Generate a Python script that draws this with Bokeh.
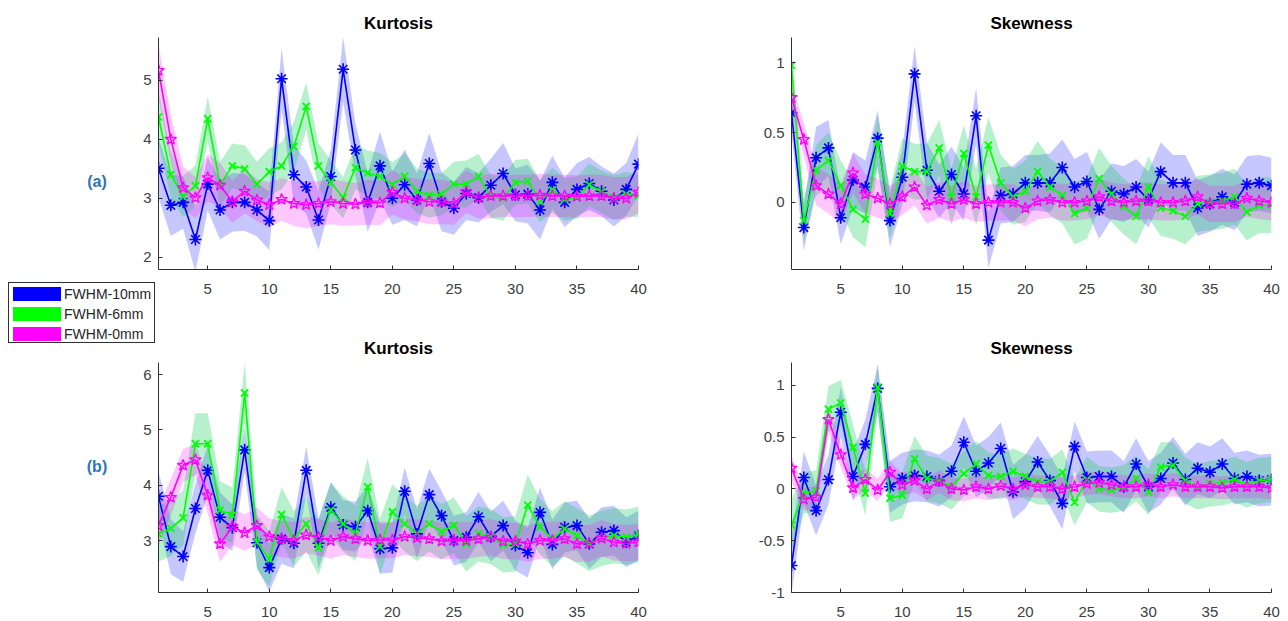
from bokeh.plotting import figure
from bokeh.layouts import row, column
from bokeh.models import Range1d, FixedTicker, Div
from bokeh.embed import file_html
from bokeh.resources import INLINE

# ---------------- data ----------------
x = list(range(1, 41))
series_names = ["FWHM-10mm", "FWHM-6mm", "FWHM-0mm"]
panel_tags = ["(a)", "(b)"]
xticks = [5, 10, 15, 20, 25, 30, 35, 40]

# (a) Kurtosis
a_kurt_10 = [3.51, 2.88, 2.93, 2.30, 3.24, 2.80, 2.93, 2.93, 2.80, 2.62,
             5.03, 3.40, 3.19, 2.63, 3.37, 5.19, 3.82, 2.93, 3.55, 3.00,
             3.23, 2.97, 3.59, 2.94, 2.83, 3.08, 3.01, 3.22, 3.42, 3.06,
             3.07, 2.80, 3.27, 2.93, 3.15, 3.25, 3.12, 2.97, 3.15, 3.58]
a_kurt_6 = [4.38, 3.40, 3.03, 3.21, 4.35, 3.23, 3.55, 3.50, 3.24, 3.45,
            3.55, 3.88, 4.56, 3.55, 3.27, 3.01, 3.52, 3.43, 3.37, 3.23,
            3.37, 3.12, 3.05, 3.07, 3.24, 3.24, 3.37, 3.03, 3.00, 3.27,
            3.29, 2.95, 3.14, 2.98, 3.01, 3.23, 3.11, 3.01, 3.07, 3.04]
a_kurt_0 = [5.17, 4.00, 3.18, 3.01, 3.35, 3.22, 2.94, 3.12, 2.97, 2.89,
            2.98, 2.91, 2.89, 2.91, 2.94, 2.91, 2.90, 2.93, 2.92, 3.10,
            3.00, 2.97, 2.94, 2.94, 2.91, 3.11, 3.01, 3.04, 3.04, 3.04,
            3.04, 3.05, 3.04, 3.04, 3.03, 3.04, 3.04, 3.00, 3.00, 3.10]
a_kurt_sd_10 = [0.50, 0.52, 0.45, 0.55, 0.45, 0.50, 0.50, 0.48, 0.45, 0.50,
                0.52, 0.50, 0.45, 0.50, 0.45, 0.55, 0.45, 0.50, 0.58, 0.45,
                0.60, 0.45, 0.52, 0.50, 0.45, 0.45, 0.42, 0.45, 0.52, 0.45,
                0.50, 0.50, 0.45, 0.42, 0.45, 0.45, 0.42, 0.45, 0.45, 0.52]
a_kurt_sd_6 = [0.45, 0.40, 0.35, 0.35, 0.38, 0.38, 0.38, 0.40, 0.38, 0.40,
               0.40, 0.42, 0.40, 0.38, 0.38, 0.35, 0.38, 0.38, 0.40, 0.38,
               0.40, 0.38, 0.38, 0.36, 0.38, 0.40, 0.38, 0.36, 0.38, 0.38,
               0.38, 0.36, 0.38, 0.36, 0.36, 0.36, 0.36, 0.38, 0.38, 0.36]
a_kurt_sd_0 = [0.45, 0.42, 0.36, 0.35, 0.40, 0.38, 0.36, 0.38, 0.36, 0.38,
               0.36, 0.38, 0.40, 0.38, 0.38, 0.38, 0.36, 0.38, 0.38, 0.38,
               0.36, 0.36, 0.38, 0.38, 0.36, 0.36, 0.36, 0.38, 0.36, 0.36,
               0.36, 0.36, 0.36, 0.36, 0.36, 0.36, 0.36, 0.36, 0.36, 0.36]

# (a) Skewness
a_skew_10 = [0.64, -0.18, 0.32, 0.39, -0.11, 0.16, 0.11, 0.46, -0.13, 0.18,
             0.92, 0.23, 0.08, 0.20, 0.06, 0.62, -0.27, 0.05, 0.06, 0.14,
             0.14, 0.14, 0.25, 0.11, 0.15, -0.05, 0.08, 0.06, 0.11, 0.02,
             0.22, 0.14, 0.14, -0.04, -0.01, 0.04, 0.00, 0.13, 0.14, 0.12]
a_skew_6 = [0.98, -0.13, 0.23, 0.30, 0.12, -0.05, -0.12, 0.43, -0.08, 0.26,
            0.22, 0.22, 0.39, 0.04, 0.35, 0.04, 0.41, 0.14, 0.04, 0.08,
            0.22, 0.11, 0.05, -0.08, -0.04, 0.17, 0.06, -0.03, -0.10, 0.11,
            -0.04, -0.06, -0.10, -0.01, 0.00, 0.01, 0.04, -0.07, -0.02, -0.02]
a_skew_0 = [0.75, 0.45, 0.12, 0.06, -0.01, 0.21, 0.06, 0.03, -0.01, 0.04,
            0.11, -0.02, 0.02, -0.01, 0.02, -0.01, 0.00, 0.00, 0.00, -0.04,
            0.01, 0.02, 0.00, 0.00, 0.01, 0.04, 0.01, 0.00, 0.01, 0.01,
            0.00, 0.00, 0.01, 0.04, -0.01, -0.01, -0.01, 0.03, 0.01, 0.00]
a_skew_sd_10 = [0.15, 0.17, 0.22, 0.20, 0.19, 0.20, 0.19, 0.20, 0.19, 0.20,
                0.20, 0.20, 0.19, 0.20, 0.19, 0.20, 0.20, 0.20, 0.20, 0.20,
                0.20, 0.21, 0.20, 0.20, 0.21, 0.21, 0.20, 0.20, 0.20, 0.20,
                0.21, 0.20, 0.20, 0.20, 0.20, 0.20, 0.20, 0.20, 0.20, 0.20]
a_skew_sd_6 = [0.12, 0.15, 0.18, 0.20, 0.18, 0.20, 0.20, 0.20, 0.18, 0.20,
               0.20, 0.20, 0.20, 0.20, 0.20, 0.20, 0.20, 0.20, 0.20, 0.22,
               0.22, 0.20, 0.20, 0.22, 0.22, 0.22, 0.20, 0.20, 0.20, 0.22,
               0.20, 0.20, 0.20, 0.20, 0.20, 0.20, 0.20, 0.20, 0.20, 0.20]
a_skew_sd_0 = [0.10, 0.12, 0.14, 0.14, 0.14, 0.14, 0.14, 0.14, 0.13, 0.13,
               0.13, 0.13, 0.13, 0.13, 0.13, 0.13, 0.13, 0.13, 0.13, 0.13,
               0.13, 0.13, 0.13, 0.13, 0.13, 0.13, 0.13, 0.13, 0.13, 0.13,
               0.13, 0.13, 0.13, 0.13, 0.13, 0.13, 0.13, 0.13, 0.13, 0.13]

# (b) Kurtosis
b_kurt_10 = [3.80, 2.89, 2.71, 3.58, 4.27, 3.42, 3.23, 4.64, 2.96, 2.51,
             3.03, 2.95, 4.27, 2.95, 3.60, 3.28, 3.25, 3.54, 2.85, 2.87,
             3.89, 3.12, 3.83, 3.45, 3.00, 3.06, 3.43, 3.07, 3.27, 2.91,
             2.78, 3.51, 2.93, 3.24, 3.27, 2.94, 3.15, 3.18, 2.97, 3.09]
b_kurt_6 = [3.12, 3.22, 3.41, 4.75, 4.75, 3.55, 3.46, 5.67, 2.97, 2.67,
            3.47, 3.03, 3.30, 2.87, 3.55, 3.30, 3.13, 3.97, 2.89, 3.52,
            3.30, 3.13, 3.30, 3.16, 3.28, 2.94, 3.12, 3.07, 2.92, 2.94,
            3.64, 3.25, 3.03, 3.21, 3.09, 2.95, 3.04, 3.09, 3.06, 3.11]
b_kurt_0 = [3.27, 3.78, 4.36, 4.46, 3.82, 2.94, 3.25, 3.14, 3.27, 3.07,
            3.03, 3.00, 3.10, 3.06, 3.00, 3.07, 3.03, 3.00, 3.01, 3.01,
            3.07, 3.05, 3.03, 2.99, 3.00, 3.00, 3.03, 3.06, 2.99, 2.99,
            2.94, 3.00, 3.00, 3.03, 2.94, 2.95, 3.04, 2.97, 2.95, 2.97]
b_kurt_sd_10 = [0.45, 0.50, 0.46, 0.45, 0.45, 0.45, 0.42, 0.40, 0.45, 0.43,
                0.45, 0.45, 0.43, 0.45, 0.45, 0.45, 0.45, 0.45, 0.45, 0.45,
                0.43, 0.45, 0.47, 0.45, 0.45, 0.45, 0.45, 0.45, 0.45, 0.45,
                0.45, 0.45, 0.45, 0.45, 0.45, 0.45, 0.45, 0.45, 0.45, 0.45]
b_kurt_sd_6 = [0.50, 0.50, 0.50, 0.55, 0.55, 0.52, 0.50, 0.55, 0.50, 0.50,
               0.50, 0.50, 0.50, 0.50, 0.50, 0.50, 0.50, 0.52, 0.50, 0.50,
               0.50, 0.50, 0.50, 0.50, 0.50, 0.50, 0.50, 0.50, 0.50, 0.50,
               0.55, 0.50, 0.50, 0.50, 0.50, 0.50, 0.50, 0.50, 0.50, 0.50]
b_kurt_sd_0 = [0.35, 0.33, 0.30, 0.28, 0.33, 0.33, 0.33, 0.33, 0.33, 0.33,
               0.33, 0.33, 0.33, 0.33, 0.33, 0.33, 0.33, 0.33, 0.33, 0.33,
               0.33, 0.33, 0.33, 0.33, 0.33, 0.33, 0.33, 0.33, 0.33, 0.33,
               0.33, 0.33, 0.33, 0.33, 0.33, 0.33, 0.33, 0.33, 0.33, 0.33]

# (b) Skewness
b_skew_10 = [-0.74, 0.11, -0.21, 0.09, 0.74, 0.12, 0.43, 0.97, 0.02, 0.10,
             0.13, 0.12, 0.08, 0.17, 0.45, 0.17, 0.25, 0.39, -0.03, 0.07,
             0.26, 0.08, -0.14, 0.41, 0.11, 0.12, 0.12, 0.02, 0.24, 0.02,
             0.10, 0.25, 0.09, 0.20, 0.16, 0.24, 0.10, 0.12, 0.08, 0.09]
b_skew_6 = [-0.35, -0.04, -0.02, 0.77, 0.83, 0.40, -0.04, 0.98, -0.09, -0.06,
            0.29, 0.10, 0.08, 0.02, 0.15, 0.24, 0.13, 0.12, 0.17, 0.12,
            0.07, 0.07, 0.16, -0.13, 0.09, 0.00, -0.01, 0.01, 0.10, -0.03,
            0.21, 0.23, 0.08, 0.02, 0.05, 0.06, 0.09, 0.04, 0.08, 0.09]
b_skew_0 = [0.20, -0.10, -0.08, 0.67, 0.33, 0.01, 0.09, -0.01, 0.16, 0.04,
            0.08, 0.00, 0.07, 0.00, -0.01, 0.02, 0.00, 0.03, 0.00, 0.04,
            0.02, 0.02, 0.00, 0.02, 0.05, 0.06, 0.04, 0.02, 0.02, 0.04,
            0.02, 0.04, 0.02, 0.02, 0.02, 0.01, 0.02, 0.02, 0.02, 0.01]
b_skew_sd_10 = [0.28, 0.25, 0.24, 0.24, 0.24, 0.24, 0.24, 0.23, 0.25, 0.25,
                0.25, 0.25, 0.25, 0.25, 0.25, 0.25, 0.25, 0.25, 0.26, 0.26,
                0.25, 0.25, 0.25, 0.24, 0.25, 0.25, 0.25, 0.25, 0.25, 0.25,
                0.25, 0.25, 0.25, 0.25, 0.25, 0.25, 0.25, 0.25, 0.25, 0.25]
b_skew_sd_6 = [0.25, 0.20, 0.20, 0.22, 0.22, 0.22, 0.22, 0.22, 0.23, 0.22,
               0.22, 0.22, 0.22, 0.22, 0.22, 0.22, 0.22, 0.22, 0.22, 0.22,
               0.22, 0.22, 0.22, 0.22, 0.22, 0.22, 0.22, 0.22, 0.22, 0.22,
               0.24, 0.22, 0.22, 0.22, 0.22, 0.22, 0.22, 0.22, 0.22, 0.22]
b_skew_sd_0 = [0.12, 0.11, 0.11, 0.12, 0.12, 0.11, 0.11, 0.11, 0.11, 0.11,
               0.11, 0.11, 0.11, 0.11, 0.11, 0.11, 0.11, 0.11, 0.11, 0.11,
               0.11, 0.11, 0.11, 0.11, 0.11, 0.11, 0.11, 0.11, 0.11, 0.11,
               0.11, 0.11, 0.11, 0.11, 0.11, 0.11, 0.11, 0.11, 0.11, 0.11]

# ---------------- styling ----------------
COLORS = ["#0000FF", "#00FF00", "#FF00FF"]
BAND_COLORS = ["#0000FF", "#11CC55", "#FF00FF"]
BAND_ALPHA = [0.22, 0.30, 0.22]
MARKERS = ["asterisk", "x", "star"]
FONT = "Liberation Sans"
FRAME_W, FRAME_H = 480, 232
TAG_COLOR = "#2E75B6"


def make_panel(title, yr, yticks, ylabels, means, sds, top, bottom, left, right):
    p = figure(width=left + FRAME_W + right, height=top + FRAME_H + bottom,
               x_range=Range1d(1, 40), y_range=Range1d(*yr),
               output_backend="svg", toolbar_location=None, title=title,
               min_border_left=left, min_border_right=right,
               min_border_top=top, min_border_bottom=bottom)
    p.border_fill_alpha = 0
    p.title.align = "center"
    p.title.text_font = FONT
    p.title.text_font_size = "17px"
    p.title.text_font_style = "bold"
    p.title.text_color = "#000000"
    p.title.standoff = 9
    p.outline_line_color = None
    p.xgrid.visible = False
    p.ygrid.visible = False
    p.xaxis.ticker = FixedTicker(ticks=xticks)
    p.yaxis.ticker = FixedTicker(ticks=yticks)
    p.yaxis.major_label_overrides = {t: l for t, l in zip(yticks, ylabels)}
    for ax in (p.xaxis[0], p.yaxis[0]):
        ax.axis_line_color = "#303030"
        ax.axis_line_width = 1
        ax.major_tick_line_color = "#303030"
        ax.major_tick_in = 4
        ax.major_tick_out = 0
        ax.minor_tick_line_color = None
        ax.major_label_text_font = FONT
        ax.major_label_text_font_size = "15px"
        ax.major_label_text_color = "#404040"
    p.xaxis.major_label_standoff = 14
    p.yaxis.major_label_standoff = 7

    for m, s, c, a in zip(means, sds, BAND_COLORS, BAND_ALPHA):
        lo = [u - v for u, v in zip(m, s)]
        hi = [u + v for u, v in zip(m, s)]
        p.varea(x=x, y1=lo, y2=hi, fill_color=c, fill_alpha=a)
    for m, c, mk in zip(means, COLORS, MARKERS):
        p.line(x, m, line_color=c, line_width=1.6)
        if mk == "star":
            p.scatter(x, m, marker=mk, size=12, line_color=c, fill_color=None, line_width=1.3)
        elif mk == "x":
            p.scatter(x, m, marker=mk, size=10, line_color=c, line_width=1.8)
        else:
            p.scatter(x, m, marker=mk, size=12, line_color=c, line_width=1.6)
    return p


kurt_ticks_a = [2, 3, 4, 5]
kurt_ticks_b = [3, 4, 5, 6]
skew_ticks_a = [0, 0.5, 1]
skew_ticks_b = [-1, -0.5, 0, 0.5, 1]

p_ak = make_panel("Kurtosis", (1.79, 5.73), kurt_ticks_a, ["2", "3", "4", "5"],
                  [a_kurt_10, a_kurt_6, a_kurt_0], [a_kurt_sd_10, a_kurt_sd_6, a_kurt_sd_0],
                  37, 61, 18, 10)
p_as = make_panel("Skewness", (-0.48, 1.18), skew_ticks_a, ["0", "0.5", "1"],
                  [a_skew_10, a_skew_6, a_skew_0], [a_skew_sd_10, a_skew_sd_6, a_skew_sd_0],
                  37, 61, 143, 12)
p_bk = make_panel("Kurtosis", (2.06, 6.22), kurt_ticks_b, ["3", "4", "5", "6"],
                  [b_kurt_10, b_kurt_6, b_kurt_0], [b_kurt_sd_10, b_kurt_sd_6, b_kurt_sd_0],
                  32, 25, 18, 10)
p_bs = make_panel("Skewness", (-1.0, 1.22), skew_ticks_b, ["-1", "-0.5", "0", "0.5", "1"],
                  [b_skew_10, b_skew_6, b_skew_0], [b_skew_sd_10, b_skew_sd_6, b_skew_sd_0],
                  32, 25, 143, 12)

# left column: panel tags and the legend (solid colour swatches)
rows_html = ""
for i, (name, c) in enumerate(zip(series_names, COLORS)):
    top = 4 + 20 * i
    rows_html += (
        f'<div style="position:absolute;left:4px;top:{top}px;width:48px;height:14px;background:{c};"></div>'
        f'<div style="position:absolute;left:55px;top:{top - 2}px;height:18px;line-height:18px;'
        f'font-size:14px;color:#262626;white-space:nowrap;">{name}</div>'
    )
html = (
    f'<div style="position:relative;width:140px;height:615px;font-family:\'{FONT}\',Arial,sans-serif;">'
    f'<div style="position:absolute;left:77px;top:171px;width:40px;text-align:center;font-size:16px;'
    f'font-weight:bold;color:{TAG_COLOR};">{panel_tags[0]}</div>'
    f'<div style="position:absolute;left:77px;top:456px;width:40px;text-align:center;font-size:16px;'
    f'font-weight:bold;color:{TAG_COLOR};">{panel_tags[1]}</div>'
    f'<div style="position:absolute;left:8px;top:282px;width:147px;height:61px;border:1px solid #303030;'
    f'background:white;z-index:10;">{rows_html}</div>'
    f'</div>'
)
left_div = Div(text=html, width=140, height=615, margin=0,
               styles={"overflow": "visible", "z-index": "10"})

layout = row(left_div, column(p_ak, p_bk), column(p_as, p_bs))
open("out.html", "w").write(file_html(layout, INLINE))
